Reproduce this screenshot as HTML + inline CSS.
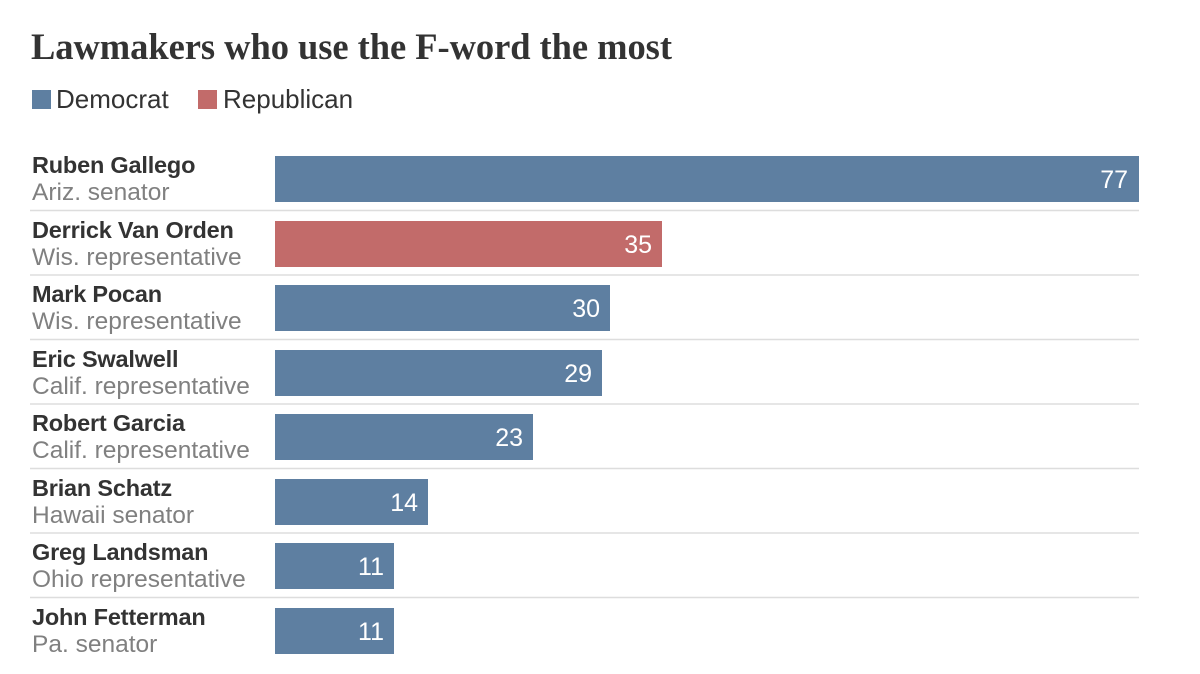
<!DOCTYPE html>
<html><head><meta charset="utf-8"><style>
html,body{margin:0;padding:0;background:#fff;}
svg{display:block;}
</style></head><body>
<svg width="1200" height="674" viewBox="0 0 1200 674" xmlns="http://www.w3.org/2000/svg">
<text x="31" y="59" font-family="Liberation Serif, serif" font-weight="bold" font-size="36.5" fill="#333" textLength="641">Lawmakers who use the F-word the most</text>
<rect x="32" y="90" width="19" height="19" fill="#5e7fa1"/>
<text x="56" y="108" font-family="Liberation Sans, sans-serif" font-size="26" fill="#333">Democrat</text>
<rect x="198" y="90" width="19" height="19" fill="#c26b6a"/>
<text x="223" y="108" font-family="Liberation Sans, sans-serif" font-size="26" fill="#333">Republican</text>
<g font-family="Liberation Sans, sans-serif" font-size="23">
<g stroke="#ddd" stroke-width="1.5">
<line x1="30" x2="1139" y1="210.5" y2="210.5"/>
<line x1="30" x2="1139" y1="275" y2="275"/>
<line x1="30" x2="1139" y1="339.5" y2="339.5"/>
<line x1="30" x2="1139" y1="404" y2="404"/>
<line x1="30" x2="1139" y1="468.5" y2="468.5"/>
<line x1="30" x2="1139" y1="533" y2="533"/>
<line x1="30" x2="1139" y1="597.5" y2="597.5"/>
</g>
<rect x="275" y="156" width="864" height="46" fill="#5e7fa1"/>
<rect x="275" y="221" width="387" height="46" fill="#c26b6a"/>
<rect x="275" y="285" width="335" height="46" fill="#5e7fa1"/>
<rect x="275" y="350" width="327" height="46" fill="#5e7fa1"/>
<rect x="275" y="414" width="258" height="46" fill="#5e7fa1"/>
<rect x="275" y="479" width="153" height="46" fill="#5e7fa1"/>
<rect x="275" y="543" width="119" height="46" fill="#5e7fa1"/>
<rect x="275" y="608" width="119" height="46" fill="#5e7fa1"/>
<g fill="#fff" font-size="25" text-anchor="end">
<text x="1128" y="188">77</text>
<text x="652" y="253">35</text>
<text x="600" y="317">30</text>
<text x="592" y="382">29</text>
<text x="523" y="446">23</text>
<text x="418" y="511">14</text>
<text x="384" y="575">11</text>
<text x="384" y="640">11</text>
</g>
<g font-weight="bold" fill="#333" font-size="23.5" letter-spacing="-0.2">
<text x="32" y="173">Ruben Gallego</text>
<text x="32" y="238">Derrick Van Orden</text>
<text x="32" y="302">Mark Pocan</text>
<text x="32" y="367">Eric Swalwell</text>
<text x="32" y="431">Robert Garcia</text>
<text x="32" y="496">Brian Schatz</text>
<text x="32" y="560">Greg Landsman</text>
<text x="32" y="625">John Fetterman</text>
</g>
<g fill="#808080" font-size="24.5">
<text x="32" y="200">Ariz. senator</text>
<text x="32" y="265">Wis. representative</text>
<text x="32" y="329">Wis. representative</text>
<text x="32" y="394">Calif. representative</text>
<text x="32" y="458">Calif. representative</text>
<text x="32" y="523">Hawaii senator</text>
<text x="32" y="587">Ohio representative</text>
<text x="32" y="652">Pa. senator</text>
</g>
</g>
</svg>
</body></html>
